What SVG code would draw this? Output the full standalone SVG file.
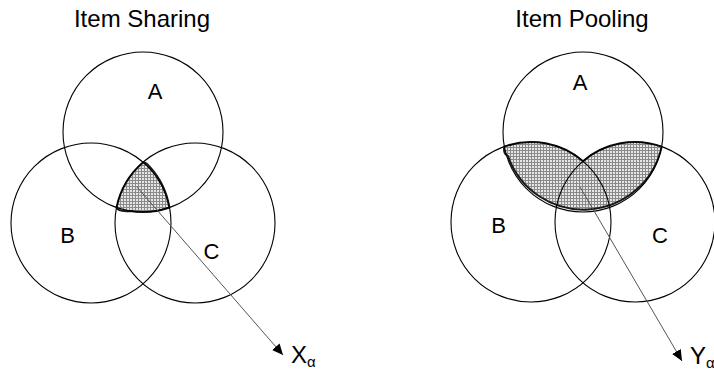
<svg xmlns="http://www.w3.org/2000/svg" width="714" height="375" viewBox="0 0 714 375">
<style>
.c{fill:none;stroke:#000;stroke-width:1.1}
.t{font-family:"Liberation Sans",Arial,sans-serif;fill:#000}
.title{font-size:24px;text-anchor:middle}
.lbl{font-size:22px;text-anchor:middle}
.xy{font-size:24px}
.sub{font-size:15px}
.blob{fill:url(#hatch);stroke:#1a1a1a;stroke-width:2;stroke-linejoin:round}
.arr{stroke:#555;stroke-width:1;fill:none;marker-end:url(#ah)}
</style>
<defs>
<pattern id="hatch" width="3" height="3" patternUnits="userSpaceOnUse">
<rect width="3" height="3" fill="#e6e6e6"/>
<rect width="3" height="1" fill="#8a8a8a"/>
<rect width="1" height="3" fill="#8a8a8a"/>
</pattern>
<marker id="ah" markerUnits="userSpaceOnUse" markerWidth="12" markerHeight="10" refX="11" refY="5" orient="auto">
<path d="M0,0 L11,5 L0,10 z" fill="#000"/>
</marker>
</defs>
<rect width="714" height="375" fill="#fff"/>
<text class="t title" x="142" y="27">Item Sharing</text>
<text class="t title" x="582" y="27">Item Pooling</text>
<g id="sharing-shade">
<path class="blob" d="M143,162.5 A80,80 0 0,0 116.6,207.5 Q118,212 130,211 A80,80 0 0,0 169.4,207.5 A80,80 0 0,0 149,166 Q146,162 143,162.5 Z"/>
</g>
<g id="pooling-shade">
<path class="blob" d="M504.3,146.6 Q503,154 508,156 A80,80 0 0,0 661.7,146.6 A80,80 0 0,0 583,161.2 A80,80 0 0,0 504.3,146.6 Z"/>
</g>
<g id="sharing-A"><circle class="c" cx="143" cy="132" r="80"/><text class="t lbl" x="155" y="99">A</text></g>
<g id="sharing-B"><circle class="c" cx="91" cy="223" r="80"/><text class="t lbl" x="67.5" y="243">B</text></g>
<g id="sharing-C"><circle class="c" cx="195" cy="223" r="80"/><text class="t lbl" x="211.5" y="259">C</text></g>
<g id="pooling-A"><circle class="c" cx="583" cy="132" r="80"/><text class="t lbl" x="580" y="90">A</text></g>
<g id="pooling-B"><circle class="c" cx="531" cy="222" r="80"/><text class="t lbl" x="498.5" y="233">B</text></g>
<g id="pooling-C"><circle class="c" cx="635" cy="222" r="80"/><text class="t lbl" x="660" y="243">C</text></g>
<g id="connectors">
<line class="arr" x1="137" y1="187" x2="283" y2="355"/>
<line class="arr" x1="580" y1="187" x2="682" y2="361"/>
</g>
<g id="label-X"><text class="t xy" x="291" y="363">X<tspan class="sub" dy="4">α</tspan></text></g>
<g id="label-Y"><text class="t xy" x="690" y="364">Y<tspan class="sub" dy="4">α</tspan></text></g>
</svg>
